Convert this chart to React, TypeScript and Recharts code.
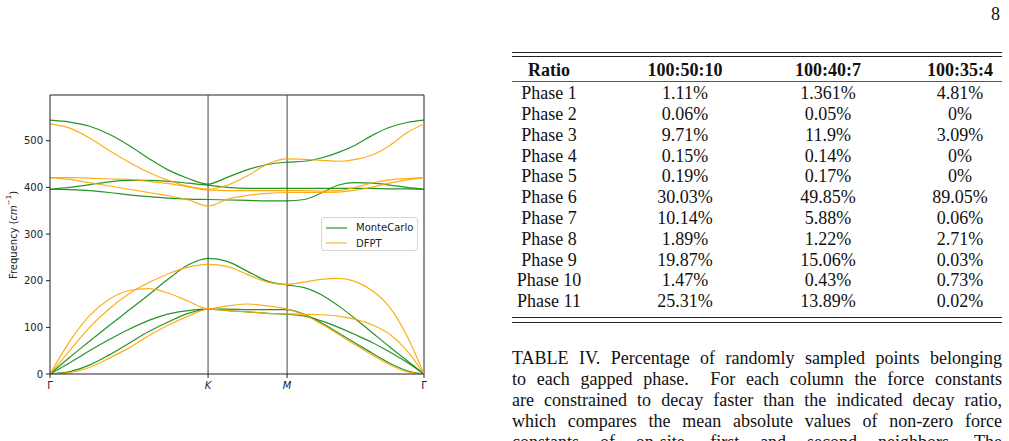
import React from "react";
import { LineChart, Line, XAxis, YAxis, ReferenceLine, Legend } from "recharts";

// path distance along Γ–K–M–Γ (Γ-K = 2, K-M = 1, M-Γ = √3)
const dist = [
  0, 0.25, 0.5, 0.75, 1, 1.25, 1.5, 1.75, 2,
  2.25, 2.5, 2.75, 3,
  3.2165, 3.433, 3.6495, 3.866, 4.0825, 4.299, 4.5155, 4.732,
];
const pathTicks = [0, 2, 3, 4.732];
const pathLabels = ["Γ", "K", "M", "Γ"];
const freqTicks = [0, 100, 200, 300, 400, 500];
const legendOrder = ["MonteCarlo", "DFPT"];

// MonteCarlo bands (cm^-1)
const mcBand1 = [0, 36, 70, 104, 137, 170, 204, 234, 248, 241, 220, 199, 191, 185, 170, 146, 118, 88, 58, 29, 0];
const mcBand2 = [0, 24, 50, 74, 96, 115, 129, 136, 139, 139, 138, 138, 138, 128, 110, 88, 66, 44, 23, 7, 0];
const mcBand3 = [0, 5, 19, 41, 66, 91, 112, 130, 139, 136, 133, 130, 128, 124, 114, 100, 84, 67, 47, 25, 0];
const mcBand4 = [396, 395, 393, 389, 384, 380, 377, 375, 374, 373, 372, 371, 371, 374, 388, 405, 410, 409, 405, 400, 396];
const mcBand5 = [396, 400, 406, 412, 415, 415, 413, 409, 405, 400, 398, 398, 398, 398, 398, 398, 398, 398, 397, 397, 396];
const mcBand6 = [544, 540, 531, 514, 490, 462, 437, 419, 407, 422, 438, 449, 454, 456, 463, 475, 491, 512, 529, 539, 544];

// DFPT bands (cm^-1)
const dfBand1 = [0, 50, 100, 140, 172, 196, 215, 229, 235, 230, 213, 197, 192, 197, 203, 205, 198, 178, 143, 82, 0];
const dfBand2 = [0, 70, 125, 160, 179, 183, 173, 156, 140, 146, 150, 146, 139, 127, 107, 85, 62, 40, 20, 5, 0];
const dfBand3 = [0, 3, 14, 34, 56, 82, 105, 124, 139, 136, 133, 130, 129, 128, 127, 124, 117, 105, 85, 50, 0];
const dfBand4 = [421, 417, 410, 403, 396, 389, 382, 373, 360, 375, 383, 387, 389, 389, 389, 390, 394, 401, 409, 416, 421];
const dfBand5 = [421, 421, 420, 418, 417, 413, 408, 401, 394, 393, 393, 393, 393, 393, 392, 393, 400, 410, 416, 419, 421];
const dfBand6 = [536, 527, 506, 479, 454, 432, 415, 402, 396, 405, 425, 450, 461, 460, 458, 456, 460, 470, 490, 517, 536];

const mcBands = [mcBand1, mcBand2, mcBand3, mcBand4, mcBand5, mcBand6];
const dfBands = [dfBand1, dfBand2, dfBand3, dfBand4, dfBand5, dfBand6];

// table IV
const ratioHeaders = ["Ratio", "100:50:10", "100:40:7", "100:35:4"];
const phaseNames = ["Phase 1", "Phase 2", "Phase 3", "Phase 4", "Phase 5", "Phase 6", "Phase 7", "Phase 8", "Phase 9", "Phase 10", "Phase 11"];
const ratio50 = ["1.11%", "0.06%", "9.71%", "0.15%", "0.19%", "30.03%", "10.14%", "1.89%", "19.87%", "1.47%", "25.31%"];
const ratio40 = ["1.361%", "0.05%", "11.9%", "0.14%", "0.17%", "49.85%", "5.88%", "1.22%", "15.06%", "0.43%", "13.89%"];
const ratio35 = ["4.81%", "0%", "3.09%", "0%", "0%", "89.05%", "0.06%", "2.71%", "0.03%", "0.73%", "0.02%"];

const captionLines = [
  "TABLE IV. Percentage of randomly sampled points belonging",
  "to each gapped phase.  For each column the force constants",
  "are constrained to decay faster than the indicated decay ratio,",
  "which compares the mean absolute values of non-zero force",
  "constants of on-site, first and second neighbors. The",
];

const GREEN = "#008000";
const ORANGE = "#ffa500";

const rows = dist.map((d, i) => {
  const row: Record<string, number> = { d };
  mcBands.forEach((b, j) => (row[`mc${j}`] = b[i]));
  dfBands.forEach((b, j) => (row[`df${j}`] = b[i]));
  return row;
});

function PathTick({ x, y, payload }: any) {
  const label = pathLabels[pathTicks.indexOf(payload.value)];
  return (
    <text
      x={x}
      y={y}
      dy="0.71em"
      textAnchor="middle"
      fontSize={10}
      fill="#222"
      fontStyle={label === "Γ" ? "normal" : "italic"}
    >
      {label}
    </text>
  );
}

function FreqLabel() {
  return (
    <text
      x={12.5}
      y={235}
      transform="rotate(-90, 12.5, 235)"
      textAnchor="middle"
      dominantBaseline="central"
      fontSize={10}
      fill="#222"
    >
      <tspan>Frequency (</tspan>
      <tspan fontStyle="italic">cm</tspan>
      <tspan fontSize={7} dy={-4}>−1</tspan>
      <tspan dy={4}>)</tspan>
    </text>
  );
}

function BandLegend({ payload }: any) {
  const items = (payload || [])
    .filter((p: any) => p.type !== "none")
    .sort((a: any, b: any) => legendOrder.indexOf(a.value) - legendOrder.indexOf(b.value));
  return (
    <div
      style={{
        width: 97,
        height: 34,
        border: "1px solid #d6d6d6",
        borderRadius: 3,
        background: "rgba(255,255,255,0.85)",
        boxSizing: "border-box",
        paddingTop: 2,
      }}
    >
      {items.map((p: any) => (
        <div key={p.value} style={{ display: "flex", alignItems: "center", height: 15.5 }}>
          <svg width={30} height={10} style={{ marginLeft: 3 }}>
            <line x1={1} y1={5} x2={22} y2={5} stroke={p.color} strokeOpacity={0.7} strokeWidth={1.4} />
          </svg>
          <span style={{ fontSize: 10, color: "#222", marginLeft: 1 }}>{p.value}</span>
        </div>
      ))}
    </div>
  );
}

const serif = "'Liberation Serif', 'Times New Roman', serif";
const colCenters = [549, 685, 828, 960];
const rowTop = 83.2;
const rowPitch = 20.8;

function Cell({ center, top, text, bold }: { center: number; top: number; text: string; bold?: boolean }) {
  return (
    <div
      style={{
        position: "absolute",
        left: center - 70,
        width: 140,
        top,
        height: rowPitch,
        lineHeight: `${rowPitch}px`,
        textAlign: "center",
        fontWeight: bold ? "bold" : "normal",
        whiteSpace: "nowrap",
      }}
    >
      {text}
    </div>
  );
}

function Rule({ top, color = "#222", h = 1 }: { top: number; color?: string; h?: number }) {
  return <div style={{ position: "absolute", left: 512, width: 490, top, height: h, background: color }} />;
}

export default function App() {
  return (
    <div
      style={{
        position: "absolute",
        left: 0,
        top: 0,
        width: 1009,
        height: 441,
        overflow: "hidden",
        background: "#fff",
      }}
    >
      <div style={{ position: "absolute", left: 0, top: 0, fontFamily: "'DejaVu Sans', sans-serif" }}>
        <LineChart width={440} height={400} data={rows} margin={{ top: 95, right: 16, bottom: 0, left: 10 }}>
          <XAxis
            dataKey="d"
            type="number"
            domain={[0, 4.732]}
            ticks={pathTicks}
            interval={0}
            tick={<PathTick />}
            tickSize={4}
            tickMargin={4}
            height={26}
            axisLine={{ stroke: "#222" }}
            tickLine={{ stroke: "#222" }}
            allowDataOverflow
          />
          <YAxis
            type="number"
            domain={[0, 598]}
            ticks={freqTicks}
            interval={0}
            width={40}
            tickSize={4}
            tickMargin={3}
            tick={{ fontSize: 10, fill: "#222" }}
            axisLine={{ stroke: "#222" }}
            tickLine={{ stroke: "#222" }}
            label={<FreqLabel />}
            allowDataOverflow
          />
          <ReferenceLine y={598} stroke="#222" />
          <ReferenceLine x={4.732} stroke="#222" />
          <ReferenceLine x={2} stroke="#444" />
          <ReferenceLine x={3} stroke="#444" />
          {mcBands.map((_, j) => (
            <Line
              key={`mc${j}`}
              dataKey={`mc${j}`}
              name="MonteCarlo"
              type="monotone"
              stroke={GREEN}
              strokeOpacity={0.85}
              strokeWidth={1.2}
              dot={false}
              legendType={j === 0 ? "line" : "none"}
              isAnimationActive={false}
            />
          ))}
          {dfBands.map((_, j) => (
            <Line
              key={`df${j}`}
              dataKey={`df${j}`}
              name="DFPT"
              type="monotone"
              stroke={ORANGE}
              strokeOpacity={0.9}
              strokeWidth={1.2}
              dot={false}
              legendType={j === 0 ? "line" : "none"}
              isAnimationActive={false}
            />
          ))}
          <Legend
            layout="vertical"
            align="center"
            verticalAlign="middle"
            content={<BandLegend />}
            wrapperStyle={{ left: 321, top: 217, width: 97, height: 34 }}
          />
        </LineChart>
      </div>

      <div style={{ position: "absolute", left: 0, top: 0, fontFamily: serif, fontSize: 18, color: "#111" }}>
        <div style={{ position: "absolute", left: 960, width: 40, top: 3.5, lineHeight: "20.8px", textAlign: "right" }}>8</div>

        <Rule top={52} />
        <Rule top={56} />
        {ratioHeaders.map((h, c) => (
          <Cell key={h} center={colCenters[c]} top={59.8} text={h} bold />
        ))}
        <Rule top={80.5} color="#555" h={1.3} />
        {phaseNames.map((p, i) => (
          <React.Fragment key={p}>
            <Cell center={colCenters[0]} top={rowTop + i * rowPitch} text={p} />
            <Cell center={colCenters[1]} top={rowTop + i * rowPitch} text={ratio50[i]} />
            <Cell center={colCenters[2]} top={rowTop + i * rowPitch} text={ratio40[i]} />
            <Cell center={colCenters[3]} top={rowTop + i * rowPitch} text={ratio35[i]} />
          </React.Fragment>
        ))}
        <Rule top={316.8} />
        <Rule top={321.5} />

        {captionLines.map((line, i) => (
          <div
            key={i}
            style={{
              position: "absolute",
              left: 512,
              width: 490,
              top: 347.5 + i * 21,
              lineHeight: "20.8px",
              textAlign: "justify",
              textAlignLast: "justify",
              whiteSpace: "pre-wrap",
            }}
          >
            {line}
          </div>
        ))}
      </div>
    </div>
  );
}
